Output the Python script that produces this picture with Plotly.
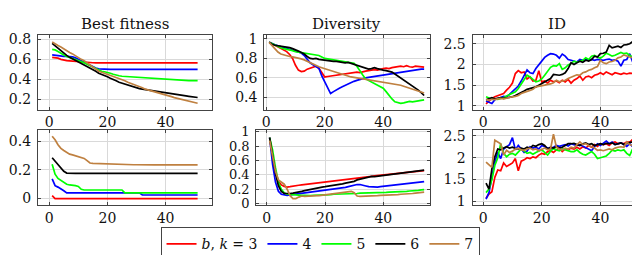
import plotly.graph_objects as go

# ---------------- data ----------------
gen51 = list(range(1, 52))
gen54 = list(range(1, 55))

series_names = ["<i>b</i>, <i>k</i> = 3", "4", "5", "6", "7"]
series_colors = ["#ff0000", "#0000ff", "#00ff00", "#000000", "#bf8040"]

# Best fitness (top row)
bf_top_3 = [0.620, 0.618, 0.612, 0.600, 0.592, 0.588, 0.585, 0.582, 0.578, 0.575,
            0.572, 0.570, 0.568, 0.567, 0.566, 0.565, 0.565, 0.565, 0.565, 0.565,
            0.565, 0.565, 0.565, 0.565, 0.565, 0.565, 0.565, 0.565, 0.565, 0.565,
            0.565, 0.565, 0.565, 0.565, 0.565, 0.565, 0.565, 0.565, 0.565, 0.565,
            0.565, 0.565, 0.565, 0.565, 0.565, 0.565, 0.565, 0.565, 0.565, 0.565, 0.565]
bf_top_4 = [0.645, 0.640, 0.635, 0.632, 0.630, 0.630, 0.628, 0.625, 0.615, 0.600,
            0.585, 0.570, 0.555, 0.540, 0.525, 0.512, 0.505, 0.502, 0.500, 0.500,
            0.500, 0.500, 0.500, 0.500, 0.500, 0.500, 0.500, 0.500, 0.500, 0.500,
            0.500, 0.500, 0.500, 0.500, 0.500, 0.500, 0.500, 0.500, 0.500, 0.500,
            0.500, 0.500, 0.500, 0.500, 0.500, 0.500, 0.500, 0.500, 0.500, 0.500, 0.500]
bf_top_5 = [0.700, 0.695, 0.680, 0.660, 0.645, 0.630, 0.620, 0.610, 0.600, 0.590,
            0.580, 0.565, 0.550, 0.535, 0.520, 0.505, 0.490, 0.480, 0.475, 0.470,
            0.460, 0.450, 0.440, 0.435, 0.430, 0.428, 0.425, 0.422, 0.420, 0.418,
            0.415, 0.413, 0.410, 0.408, 0.406, 0.404, 0.402, 0.400, 0.398, 0.396,
            0.394, 0.392, 0.390, 0.388, 0.387, 0.386, 0.386, 0.386, 0.386, 0.386, 0.386]
bf_top_6 = [0.760, 0.735, 0.710, 0.690, 0.660, 0.640, 0.620, 0.605, 0.590, 0.575,
            0.560, 0.545, 0.530, 0.515, 0.500, 0.480, 0.460, 0.450, 0.440, 0.425,
            0.410, 0.400, 0.385, 0.370, 0.360, 0.350, 0.345, 0.335, 0.325, 0.315,
            0.305, 0.300, 0.295, 0.290, 0.285, 0.280, 0.275, 0.270, 0.265, 0.260,
            0.255, 0.250, 0.247, 0.243, 0.240, 0.236, 0.232, 0.228, 0.224, 0.220, 0.216]
bf_top_7 = [0.775, 0.755, 0.740, 0.725, 0.705, 0.690, 0.670, 0.655, 0.635, 0.615,
            0.600, 0.585, 0.565, 0.545, 0.525, 0.500, 0.480, 0.470, 0.460, 0.450,
            0.440, 0.425, 0.415, 0.405, 0.395, 0.385, 0.370, 0.360, 0.350, 0.340,
            0.325, 0.315, 0.300, 0.292, 0.285, 0.278, 0.270, 0.262, 0.255, 0.245,
            0.235, 0.225, 0.215, 0.208, 0.200, 0.195, 0.188, 0.180, 0.172, 0.165, 0.158]

# Diversity (top row), 54 generations
dv_top_3 = [0.965, 0.950, 0.935, 0.920, 0.905, 0.890, 0.870, 0.840, 0.800, 0.730,
            0.680, 0.665, 0.670, 0.690, 0.700, 0.715, 0.720, 0.700, 0.650, 0.610,
            0.615, 0.620, 0.620, 0.630, 0.630, 0.640, 0.640, 0.645, 0.650, 0.655,
            0.660, 0.655, 0.665, 0.670, 0.675, 0.680, 0.685, 0.680, 0.690, 0.695,
            0.700, 0.695, 0.705, 0.710, 0.710, 0.720, 0.715, 0.725, 0.715, 0.710,
            0.720, 0.715, 0.710, 0.710]
dv_top_4 = [0.965, 0.950, 0.940, 0.930, 0.920, 0.910, 0.900, 0.895, 0.885, 0.875,
            0.865, 0.855, 0.830, 0.790, 0.755, 0.735, 0.720, 0.700, 0.620, 0.560,
            0.490, 0.440, 0.460, 0.480, 0.495, 0.510, 0.525, 0.540, 0.555, 0.565,
            0.575, 0.585, 0.590, 0.600, 0.605, 0.610, 0.615, 0.620, 0.625, 0.630,
            0.635, 0.640, 0.645, 0.650, 0.655, 0.655, 0.660, 0.665, 0.670, 0.675,
            0.680, 0.685, 0.690, 0.690]
dv_top_5 = [0.965, 0.950, 0.935, 0.920, 0.910, 0.900, 0.895, 0.890, 0.880, 0.870,
            0.865, 0.860, 0.855, 0.850, 0.845, 0.845, 0.840, 0.830, 0.815, 0.800,
            0.795, 0.790, 0.785, 0.780, 0.780, 0.775, 0.770, 0.765, 0.760, 0.750,
            0.720, 0.670, 0.630, 0.590, 0.575, 0.560, 0.545, 0.530, 0.510, 0.495,
            0.460, 0.420, 0.385, 0.355, 0.345, 0.340, 0.345, 0.350, 0.360, 0.355,
            0.360, 0.360, 0.370, 0.375]
dv_top_6 = [0.965, 0.945, 0.935, 0.930, 0.930, 0.925, 0.920, 0.910, 0.900, 0.890,
            0.875, 0.860, 0.845, 0.820, 0.800, 0.795, 0.800, 0.790, 0.785, 0.780,
            0.775, 0.775, 0.770, 0.770, 0.765, 0.760, 0.755, 0.760, 0.750, 0.745,
            0.735, 0.725, 0.715, 0.700, 0.690, 0.695, 0.705, 0.695, 0.685, 0.680,
            0.675, 0.665, 0.660, 0.640, 0.620, 0.600, 0.580, 0.560, 0.540, 0.520,
            0.500, 0.475, 0.450, 0.420]
dv_top_7 = [0.965, 0.930, 0.900, 0.865, 0.845, 0.835, 0.830, 0.820, 0.815, 0.810,
            0.805, 0.795, 0.785, 0.770, 0.755, 0.740, 0.725, 0.715, 0.705, 0.695,
            0.685, 0.675, 0.665, 0.655, 0.645, 0.635, 0.630, 0.620, 0.610, 0.605,
            0.600, 0.595, 0.590, 0.590, 0.585, 0.580, 0.575, 0.565, 0.560, 0.555,
            0.550, 0.550, 0.545, 0.540, 0.535, 0.525, 0.515, 0.505, 0.495, 0.485,
            0.475, 0.465, 0.455, 0.445]

# ID (top row)
id_top_3 = [1.05, 1.12, 1.18, 1.22, 1.25, 1.27, 1.30, 1.38, 1.45, 1.55,
            1.78, 1.85, 1.80, 1.82, 1.65, 1.70, 1.60, 1.62, 1.85, 1.58,
            1.60, 1.55, 1.62, 1.58, 1.60, 1.56, 1.62, 1.58, 1.64, 1.55,
            1.62, 1.66, 1.72, 1.62, 1.70, 1.72, 1.68, 1.74, 1.76, 1.80,
            1.76, 1.82, 1.78, 1.75, 1.80, 1.78, 1.76, 1.79, 1.77, 1.79, 1.78]
id_top_4 = [1.12, 1.08, 1.06, 1.15, 1.17, 1.20, 1.23, 1.22, 1.28, 1.35,
            1.40, 1.48, 1.60, 1.72, 1.87, 1.80, 1.78, 1.90, 2.00, 2.10,
            2.17, 2.22, 2.26, 2.25, 2.22, 2.15, 2.25, 2.20, 2.12, 2.10,
            2.08, 2.06, 2.12, 2.10, 2.12, 2.10, 2.12, 2.10, 2.12, 2.11,
            2.10, 2.12, 2.13, 2.10, 2.11, 2.08, 1.96, 2.10, 2.12, 2.26, 2.06]
id_top_5 = [1.22, 1.18, 1.16, 1.17, 1.16, 1.18, 1.20, 1.24, 1.27, 1.30,
            1.34, 1.42, 1.52, 1.62, 1.74, 1.70, 1.64, 1.58, 1.60, 1.65,
            1.74, 1.85, 1.93, 1.97, 1.96, 2.02, 1.88, 1.92, 1.99, 2.02,
            2.08, 2.05, 2.08, 2.10, 2.16, 2.12, 2.20, 2.22, 2.18, 2.15,
            2.20, 2.27, 2.24, 2.20, 2.22, 2.25, 2.29, 2.26, 2.27, 2.22, 2.18]
id_top_6 = [1.15, 1.18, 1.20, 1.17, 1.19, 1.20, 1.18, 1.19, 1.20, 1.22,
            1.25, 1.28, 1.32, 1.36, 1.40, 1.42, 1.43, 1.46, 1.50, 1.54,
            1.58, 1.60, 1.66, 1.76, 1.75, 1.74, 1.76, 1.80, 1.90, 2.04,
            2.00, 2.05, 2.08, 2.05, 2.10, 2.08, 2.12, 2.20, 2.18, 2.26,
            2.27, 2.30, 2.46, 2.40, 2.42, 2.44, 2.41, 2.47, 2.48, 2.50, 2.55]
id_top_7 = [1.15, 1.14, 1.16, 1.15, 1.17, 1.18, 1.17, 1.19, 1.20, 1.22,
            1.23, 1.25, 1.30, 1.33, 1.35, 1.37, 1.40, 1.46, 1.47, 1.49,
            1.50, 1.52, 1.53, 1.56, 1.62, 1.58, 1.60, 1.62, 1.66, 1.70,
            1.72, 1.75, 1.74, 1.80, 1.82, 1.86, 1.88, 1.92, 1.95, 2.10,
            2.04, 2.02, 2.06, 2.07, 2.10, 2.16, 2.18, 2.23, 2.20, 2.18, 2.16]

# Best fitness (bottom row)
bf_bot_3 = [0.020, 0.000, 0.000, 0.000, 0.000, 0.000, 0.000, 0.000, 0.000, 0.000,
            0.000, 0.000, 0.000, 0.000, 0.000, 0.000, 0.000, 0.000, 0.000, 0.000,
            0.000, 0.000, 0.000, 0.000, 0.000, 0.000, 0.000, 0.000, 0.000, 0.000,
            0.000, 0.000, 0.000, 0.000, 0.000, 0.000, 0.000, 0.000, 0.000, 0.000,
            0.000, 0.000, 0.000, 0.000, 0.000, 0.000, 0.000, 0.000, 0.000, 0.000, 0.000]
bf_bot_4 = [0.138, 0.090, 0.080, 0.070, 0.055, 0.040, 0.040, 0.040, 0.040, 0.040,
            0.040, 0.040, 0.040, 0.040, 0.040, 0.040, 0.040, 0.040, 0.040, 0.040,
            0.040, 0.040, 0.040, 0.040, 0.040, 0.040, 0.040, 0.040, 0.040, 0.040,
            0.040, 0.025, 0.025, 0.025, 0.025, 0.025, 0.025, 0.025, 0.025, 0.025,
            0.025, 0.025, 0.025, 0.025, 0.025, 0.025, 0.025, 0.025, 0.025, 0.025, 0.025]
bf_bot_5 = [0.240, 0.170, 0.140, 0.125, 0.110, 0.100, 0.095, 0.095, 0.090, 0.085,
            0.065, 0.060, 0.060, 0.060, 0.060, 0.060, 0.060, 0.060, 0.060, 0.060,
            0.060, 0.060, 0.060, 0.060, 0.060, 0.040, 0.040, 0.040, 0.040, 0.040,
            0.040, 0.040, 0.040, 0.040, 0.040, 0.040, 0.040, 0.040, 0.040, 0.040,
            0.040, 0.040, 0.040, 0.040, 0.040, 0.040, 0.040, 0.040, 0.040, 0.040, 0.040]
bf_bot_6 = [0.285, 0.260, 0.240, 0.210, 0.190, 0.178, 0.176, 0.176, 0.176, 0.176,
            0.176, 0.176, 0.176, 0.176, 0.176, 0.176, 0.176, 0.176, 0.176, 0.176,
            0.176, 0.176, 0.176, 0.176, 0.176, 0.176, 0.176, 0.176, 0.176, 0.176,
            0.176, 0.176, 0.176, 0.176, 0.176, 0.176, 0.176, 0.176, 0.176, 0.176,
            0.176, 0.176, 0.176, 0.176, 0.176, 0.176, 0.176, 0.176, 0.176, 0.176, 0.176]
bf_bot_7 = [0.435, 0.410, 0.375, 0.350, 0.335, 0.320, 0.310, 0.305, 0.300, 0.290,
            0.285, 0.280, 0.265, 0.248, 0.245, 0.244, 0.243, 0.242, 0.241, 0.240,
            0.240, 0.240, 0.239, 0.239, 0.238, 0.238, 0.237, 0.237, 0.236, 0.236,
            0.235, 0.235, 0.235, 0.235, 0.235, 0.235, 0.235, 0.235, 0.235, 0.235,
            0.235, 0.235, 0.235, 0.235, 0.235, 0.235, 0.235, 0.235, 0.235, 0.235, 0.235]

# Diversity (bottom row), 54 generations
dv_bot_3 = [0.920, 0.650, 0.430, 0.310, 0.260, 0.240, 0.230, 0.235, 0.245, 0.250,
            0.255, 0.260, 0.265, 0.270, 0.275, 0.285, 0.290, 0.300, 0.300, 0.305,
            0.310, 0.315, 0.320, 0.325, 0.330, 0.335, 0.340, 0.345, 0.350, 0.355,
            0.360, 0.365, 0.370, 0.370, 0.375, 0.380, 0.385, 0.390, 0.395, 0.400,
            0.405, 0.410, 0.415, 0.420, 0.425, 0.430, 0.435, 0.440, 0.440, 0.445,
            0.450, 0.450, 0.455, 0.460]
dv_bot_4 = [0.920, 0.550, 0.300, 0.170, 0.130, 0.120, 0.115, 0.120, 0.125, 0.130,
            0.140, 0.150, 0.155, 0.160, 0.165, 0.170, 0.175, 0.180, 0.185, 0.190,
            0.195, 0.200, 0.205, 0.210, 0.215, 0.220, 0.225, 0.235, 0.245, 0.260,
            0.265, 0.265, 0.260, 0.245, 0.235, 0.230, 0.230, 0.230, 0.235, 0.240,
            0.245, 0.250, 0.255, 0.260, 0.265, 0.265, 0.270, 0.275, 0.280, 0.285,
            0.290, 0.295, 0.300, 0.305]
dv_bot_5 = [0.920, 0.750, 0.500, 0.300, 0.200, 0.150, 0.130, 0.125, 0.120, 0.120,
            0.115, 0.115, 0.115, 0.110, 0.110, 0.115, 0.115, 0.120, 0.120, 0.125,
            0.125, 0.125, 0.130, 0.130, 0.135, 0.135, 0.135, 0.140, 0.140, 0.140,
            0.140, 0.145, 0.145, 0.145, 0.150, 0.150, 0.150, 0.150, 0.155, 0.155,
            0.155, 0.160, 0.160, 0.160, 0.165, 0.165, 0.170, 0.170, 0.175, 0.175,
            0.180, 0.185, 0.190, 0.195]
dv_bot_6 = [0.920, 0.650, 0.420, 0.250, 0.170, 0.140, 0.135, 0.140, 0.145, 0.150,
            0.160, 0.170, 0.180, 0.190, 0.200, 0.210, 0.215, 0.220, 0.230, 0.235,
            0.240, 0.250, 0.255, 0.260, 0.270, 0.275, 0.285, 0.290, 0.300, 0.310,
            0.330, 0.340, 0.350, 0.360, 0.375, 0.380, 0.375, 0.380, 0.385, 0.385,
            0.390, 0.395, 0.400, 0.405, 0.410, 0.420, 0.425, 0.430, 0.435, 0.440,
            0.445, 0.450, 0.455, 0.465]
dv_bot_7 = [0.880, 0.650, 0.450, 0.330, 0.300, 0.270, 0.200, 0.110, 0.070, 0.070,
            0.090, 0.105, 0.100, 0.105, 0.110, 0.105, 0.110, 0.110, 0.115, 0.115,
            0.120, 0.125, 0.130, 0.135, 0.140, 0.150, 0.160, 0.165, 0.170, 0.150,
            0.105, 0.100, 0.100, 0.105, 0.105, 0.110, 0.110, 0.110, 0.115, 0.115,
            0.120, 0.120, 0.120, 0.125, 0.125, 0.130, 0.130, 0.135, 0.140, 0.140,
            0.145, 0.150, 0.155, 0.160]

# ID (bottom row)
id_bot_3 = [1.07, 1.17, 1.22, 1.55, 1.72, 1.70, 1.88, 1.80, 1.84, 1.88,
            1.98, 1.70, 1.92, 1.95, 2.00, 1.98, 2.02, 2.00, 2.06, 2.10,
            2.08, 2.14, 2.16, 2.12, 2.18, 2.22, 2.14, 2.20, 2.18, 2.22,
            2.20, 2.24, 2.20, 2.25, 2.22, 2.28, 2.24, 2.30, 2.26, 2.32,
            2.30, 2.32, 2.28, 2.34, 2.36, 2.32, 2.34, 2.32, 2.36, 2.35, 2.42]
id_bot_4 = [1.05, 1.20, 1.55, 1.90, 2.12, 1.98, 2.20, 2.24, 2.30, 2.46,
            2.18, 2.28, 2.20, 2.12, 2.15, 2.25, 2.22, 2.24, 2.20, 2.28,
            2.25, 2.22, 2.20, 2.24, 2.28, 2.26, 2.28, 2.30, 2.27, 2.32,
            2.30, 2.28, 2.30, 2.26, 2.22, 2.18, 2.16, 2.25, 2.32, 2.28,
            2.34, 2.38, 2.32, 2.36, 2.30, 2.32, 2.34, 2.30, 2.26, 2.32, 2.25]
id_bot_5 = [1.20, 1.28, 1.50, 1.82, 2.00, 2.32, 2.10, 2.02, 2.08, 2.10,
            2.06, 2.12, 2.20, 2.15, 2.10, 2.12, 2.08, 2.12, 2.15, 2.18,
            2.12, 2.06, 2.15, 2.21, 2.18, 2.16, 2.20, 2.18, 2.16, 2.14,
            2.14, 2.18, 2.12, 2.08, 2.06, 2.10, 2.14, 2.08, 1.98, 2.00,
            2.02, 2.04, 2.10, 2.17, 2.15, 2.18, 2.16, 2.18, 2.10, 2.05, 2.20]
id_bot_6 = [1.42, 1.28, 1.75, 2.02, 2.20, 2.18, 2.22, 2.25, 2.22, 2.24,
            2.21, 2.20, 2.22, 2.20, 2.24, 2.22, 2.28, 2.26, 2.30, 2.32,
            2.28, 2.20, 2.24, 2.22, 2.25, 2.22, 2.24, 2.28, 2.32, 2.32,
            2.33, 2.30, 2.28, 2.32, 2.34, 2.30, 2.32, 2.28, 2.30, 2.32,
            2.30, 2.33, 2.32, 2.34, 2.30, 2.32, 2.34, 2.30, 2.33, 2.35, 2.36]
id_bot_7 = [1.90, 1.83, 1.78, 2.40, 2.35, 2.32, 2.06, 2.17, 2.12, 2.15,
            2.20, 2.22, 2.18, 2.17, 2.20, 2.22, 2.18, 2.20, 2.16, 2.20,
            2.22, 2.18, 2.20, 2.54, 2.24, 2.20, 2.18, 2.22, 2.20, 2.24,
            2.22, 2.30, 2.36, 2.30, 2.32, 2.28, 2.25, 2.22, 2.17, 2.18,
            2.16, 2.18, 2.20, 2.18, 2.22, 2.24, 2.25, 2.24, 2.36, 2.30, 2.28]

panel_titles = ["Best fitness", "Diversity", "ID"]
x_tickvals = [0, 20, 40]
x_ticktext = ["0", "20", "40"]
y_ticks_bf_top = [0.2, 0.4, 0.6, 0.8]
y_ticks_dv_top = [0.4, 0.6, 0.8, 1]
y_ticks_id = [1, 1.5, 2, 2.5]
y_ticks_bf_bot = [0, 0.2, 0.4]
y_ticks_dv_bot = [0, 0.2, 0.4, 0.6, 0.8, 1]

# ---------------- figure ----------------
W, H = 640, 255
FONT = "DejaVu Serif"

panels = [
    # (x, series list, xpix, ypix, xrange, yrange, yticks, tick font size)
    (gen51, [bf_top_3, bf_top_4, bf_top_5, bf_top_6, bf_top_7], (28, 202.5), (23, 101), (-3.9, 55.9), (0.094, 0.845), y_ticks_bf_top, 14),
    (gen54, [dv_top_3, dv_top_4, dv_top_5, dv_top_6, dv_top_7], (255, 421), (23, 101), (-0.7, 55.9), (0.275, 1.04), y_ticks_dv_top, 14),
    (gen51, [id_top_3, id_top_4, id_top_5, id_top_6, id_top_7], (464, 634), (23, 101), (-3.6, 54.2), (0.91, 2.71), y_ticks_id, 14),
    (gen51, [bf_bot_3, bf_bot_4, bf_bot_5, bf_bot_6, bf_bot_7], (28, 202.5), (122, 201), (-3.9, 55.9), (-0.047, 0.48), y_ticks_bf_bot, 14),
    (gen54, [dv_bot_3, dv_bot_4, dv_bot_5, dv_bot_6, dv_bot_7], (247, 421), (122, 201), (-3.6, 55.9), (-0.025, 1.03), y_ticks_dv_bot, 13),
    (gen51, [id_bot_3, id_bot_4, id_bot_5, id_bot_6, id_bot_7], (464, 634), (122, 201), (-3.6, 54.2), (0.91, 2.64), y_ticks_id, 14),
]

fig = go.Figure()
layout = dict(
    width=W, height=H,
    margin=dict(l=0, r=0, t=0, b=0),
    paper_bgcolor="white", plot_bgcolor="white",
    font=dict(family=FONT, size=14, color="#111"),
    showlegend=True,
)

for i, (xs, ser, xp, yp, xr, yr, yt, yfs) in enumerate(panels, start=1):
    xa = "x" if i == 1 else f"x{i}"
    ya = "y" if i == 1 else f"y{i}"
    for j, vals in enumerate(ser):
        fig.add_trace(go.Scatter(
            x=xs, y=vals, mode="lines", xaxis=xa, yaxis=ya,
            line=dict(color=series_colors[j], width=1.7),
            name=series_names[j], showlegend=(i == 1),
            legendrank=j,
        ))
    common = dict(showgrid=True, gridcolor="#d9d9d9", gridwidth=1,
                  showline=True, linecolor="#444", linewidth=1, mirror="ticks",
                  ticks="inside", ticklen=3, tickcolor="#444", zeroline=False)
    layout[f"xaxis{i}" if i > 1 else "xaxis"] = dict(
        domain=[xp[0] / W, xp[1] / W], range=list(xr), anchor=ya,
        tickvals=x_tickvals, ticktext=x_ticktext,
        tickfont=dict(family=FONT, size=14, color="#111"), **common)
    layout[f"yaxis{i}" if i > 1 else "yaxis"] = dict(
        domain=[1 - yp[1] / H, 1 - yp[0] / H], range=list(yr), anchor=xa,
        tickvals=yt, ticktext=[f"{v:g}" for v in yt], ticklabelstandoff=3,
        tickfont=dict(family=FONT, size=yfs, color="#111"), **common)

annotations = []
for k, title in enumerate(panel_titles):
    xp = panels[k][2]
    annotations.append(dict(
        text=title, x=(xp[0] + xp[1]) / 2 / W, y=1 - 11 / H, xref="paper", yref="paper",
        xanchor="center", yanchor="middle", showarrow=False,
        font=dict(family=FONT, size=15, color="#111")))
layout["annotations"] = annotations

layout["legend"] = dict(
    orientation="h", x=311 / W, y=1 - 224 / H, xanchor="center", yanchor="top",
    bordercolor="#444", borderwidth=1, bgcolor="white",
    font=dict(family=FONT, size=14, color="#111"),
    itemwidth=30, tracegroupgap=0, traceorder="normal",
)

fig.update_layout(**layout)
fig.write_html("out.html")
